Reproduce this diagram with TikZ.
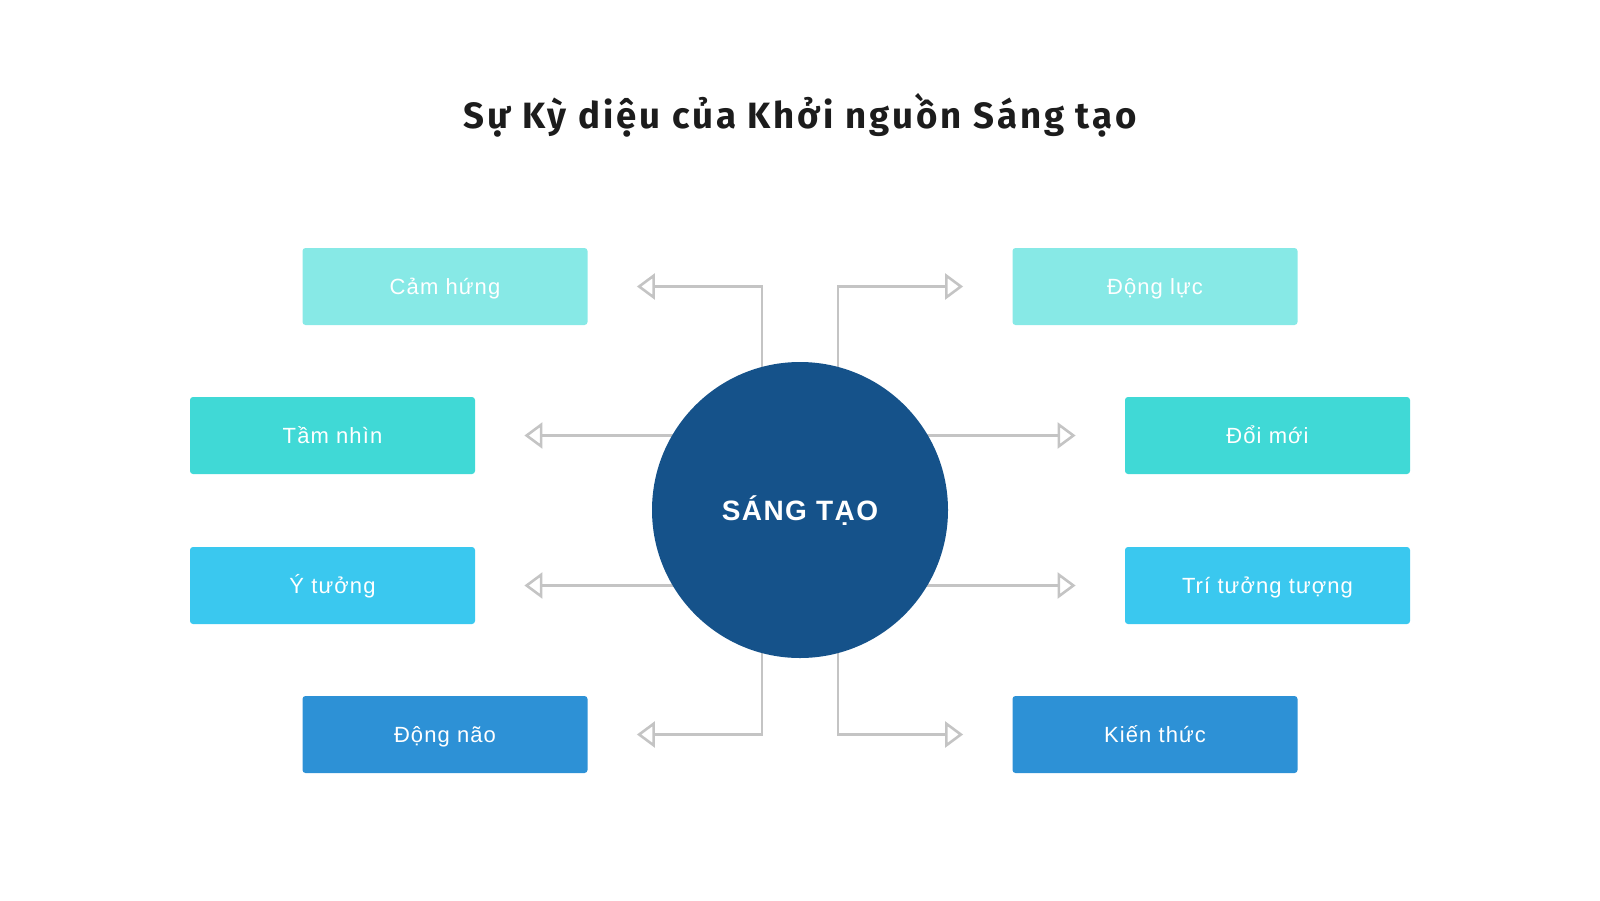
\documentclass[tikz,border=0pt]{standalone}
\usepackage{fontspec}
\setmainfont{Liberation Sans}
\newfontfamily\titlefont[LetterSpace=8]{Fira Sans}
\newfontfamily\spacedfont[LetterSpace=5]{Liberation Sans}
\usetikzlibrary{arrows.meta,positioning,backgrounds}
\definecolor{hubblue}{HTML}{15528A}
\definecolor{palecyan}{HTML}{87E9E6}
\definecolor{teal}{HTML}{40D9D6}
\definecolor{sky}{HTML}{3AC8EF}
\definecolor{midblue}{HTML}{2D91D6}
\definecolor{linegray}{HTML}{C4C4C4}
\definecolor{titleblack}{HTML}{1C1C1C}

\begin{document}
\begin{tikzpicture}[x=0.5pt,y=-0.5pt]
	\tikzstyle{box}=[rectangle, rounded corners=1.5pt, minimum width=142.5pt, minimum height=38.5pt, inner sep=0pt, text height=7.9pt, text depth=0pt, text=white, font=\spacedfont\fontsize{11}{13}\selectfont]
	\tikzstyle{hub}=[circle, fill=hubblue, minimum size=148pt, inner sep=0pt, text height=10pt, text depth=0pt, text=white, font=\spacedfont\bfseries\fontsize{14}{16}\selectfont]
	\tikzstyle{conn}=[draw=linegray, line width=1.3pt, -{Triangle[open, length=9pt, width=13pt]}]
	\useasboundingbox (0,0) rectangle (1600,900);
	\node[font=\titlefont\bfseries\fontsize{18.3}{22}\selectfont, text=titleblack](title) at (800,115){Sự Kỳ diệu của Khởi nguồn Sáng tạo};
	\node[hub](hub) at (800,510){SÁNG TẠO};
	
	\node[box, fill=palecyan](camhung) at (445,286.5){Cảm hứng};
	\node[box, fill=teal](tamnhin) at (332.5,435.5){Tầm nhìn};
	\node[box, fill=sky](ytuong) at (332.5,585.5){Ý tưởng};
	\node[box, fill=midblue](dongnao) at (445,734.5){Động não};
	\node[box, fill=palecyan](dongluc) at (1155,286.5){Động lực};
	\node[box, fill=teal](doimoi) at (1267.5,435.5){Đổi mới};
	\node[box, fill=sky](tritt) at (1267.5,585.5){Trí tưởng tượng};
	\node[box, fill=midblue](kienthuc) at (1155,734.5){Kiến thức};
	
	\coordinate (tcamhung) at ([xshift=24.5pt]camhung.east);
	\coordinate (ttamnhin) at ([xshift=24.5pt]tamnhin.east);
	\coordinate (tytuong) at ([xshift=24.5pt]ytuong.east);
	\coordinate (tdongnao) at ([xshift=24.5pt]dongnao.east);
	\coordinate (tdongluc) at ([xshift=-24.5pt]dongluc.west);
	\coordinate (tdoimoi) at ([xshift=-24.5pt]doimoi.west);
	\coordinate (ttritt) at ([xshift=-24.5pt]tritt.west);
	\coordinate (tkienthuc) at ([xshift=-24.5pt]kienthuc.west);
	
	\begin{scope}[on background layer]
	\draw[conn] ([xshift=-19pt]hub.center) |- (tcamhung);
	\draw[conn] (hub.center |- tamnhin) -- (ttamnhin);
	\draw[conn] (hub.center |- ytuong) -- (tytuong);
	\draw[conn] ([xshift=-19pt]hub.center) |- (tdongnao);
	\draw[conn] ([xshift=19pt]hub.center) |- (tdongluc);
	\draw[conn] (hub.center |- doimoi) -- (tdoimoi);
	\draw[conn] (hub.center |- tritt) -- (ttritt);
	\draw[conn] ([xshift=19pt]hub.center) |- (tkienthuc);
	\end{scope}
\end{tikzpicture}
\end{document}
